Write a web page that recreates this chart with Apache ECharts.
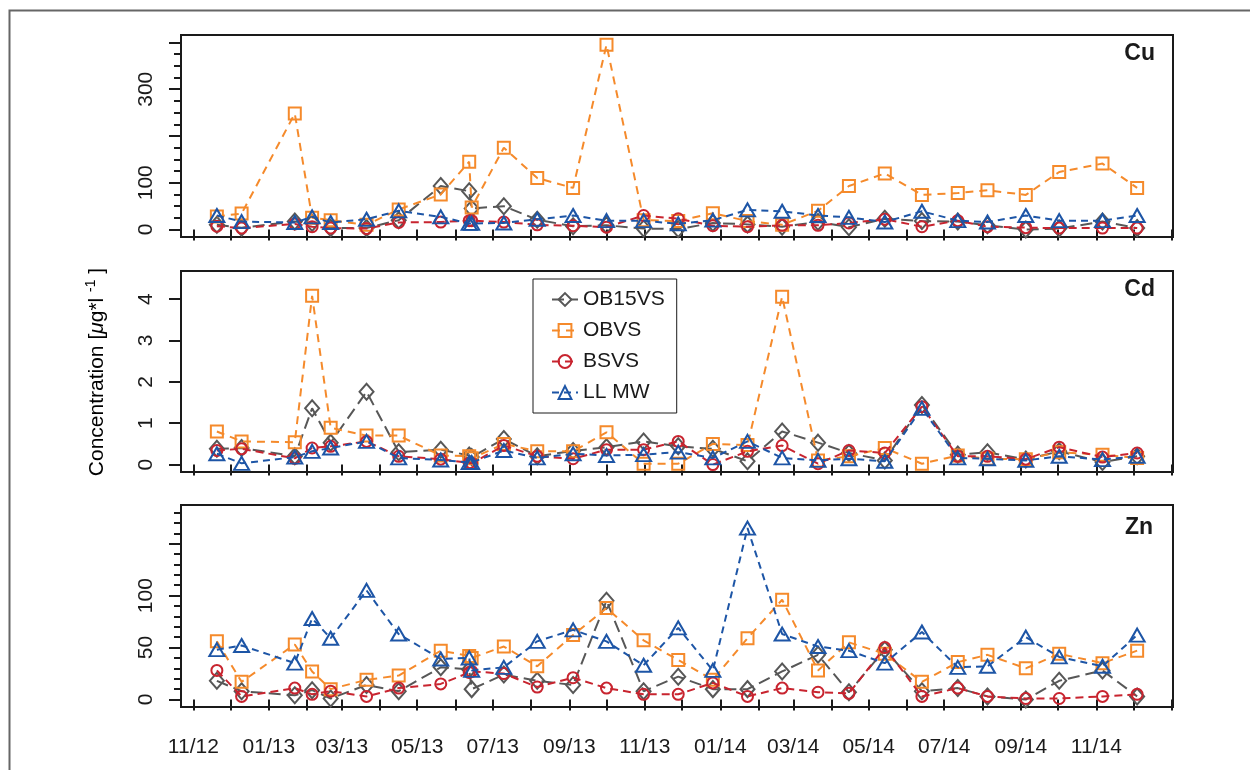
<!DOCTYPE html>
<html>
<head>
<meta charset="utf-8">
<script src="https://cdn.jsdelivr.net/npm/echarts@6/dist/echarts.min.js"></script>
<style>
  html, body { margin: 0; padding: 0; background: #fff; }
  #chart { width: 1250px; height: 770px; }
</style>
</head>
<body>
<div id="chart"></div>
<script>
// sampling dates (two samples close together in June 2013)
var dates = [
  '2012-11-20', '2012-12-10', '2013-01-22', '2013-02-05', '2013-02-20', '2013-03-21',
  '2013-04-16', '2013-05-20', '2013-06-12', '2013-06-14', '2013-07-10', '2013-08-06',
  '2013-09-04', '2013-10-01', '2013-10-31', '2013-11-28', '2013-12-26', '2014-01-23',
  '2014-02-20', '2014-03-21', '2014-04-15', '2014-05-14', '2014-06-13', '2014-07-12',
  '2014-08-05', '2014-09-05', '2014-10-02', '2014-11-06', '2014-12-04'
];

// Cu
var cuOB15VS = [10, 4, 17, 14, 3, 3, 20, 93, 82, 45, 50, 21, 7, 9, 2, 1, 14, 11, 6, 16, 5, 23, 18, 17, 9, 0, 2, 17, 3];
var cuOBVS = [28, 34, 248, 25, 20, 10, 43, 75, 145, 47, 175, 110, 89, 395, 20, 18, 35, 18, 10, 40, 93, 120, 74, 78, 84, 74, 123, 141, 89];
var cuBSVS = [7, 3, 12, 6, 3, 2, 15, 16, 19, 19, 16, 10, 8, 5, 30, 23, 8, 6, 9, 9, 14, 22, 6, 19, 6, 4, 3, 3, 3];
var cuLLMW = [30, 17, 15, 27, 15, 22, 40, 27, 13, 13, 14, 22, 30, 19, 19, 12, 20, 42, 39, 30, 26, 16, 39, 19, 16, 30, 19, 19, 30];

// Cd
var cdOB15VS = [0.38, 0.40, 0.20, 1.36, 0.53, 1.76, 0.30, 0.36, 0.22, 0.18, 0.62, 0.20, 0.33, 0.42, 0.56, 0.44, 0.38, 0.08, 0.80, 0.53, 0.28, 0.10, 1.44, 0.24, 0.30, 0.12, 0.32, 0.06, 0.20];
var cdOBVS = [0.80, 0.56, 0.54, 4.08, 0.89, 0.70, 0.70, 0.22, 0.20, 0.15, 0.50, 0.32, 0.32, 0.78, 0.02, 0.02, 0.50, 0.47, 4.06, 0.10, 0.20, 0.40, 0.02, 0.22, 0.14, 0.13, 0.30, 0.24, 0.16];
var cdBSVS = [0.34, 0.38, 0.15, 0.40, 0.44, 0.56, 0.20, 0.13, 0.04, 0.03, 0.46, 0.20, 0.14, 0.36, 0.36, 0.56, 0.00, 0.32, 0.46, 0.02, 0.34, 0.28, 1.40, 0.20, 0.20, 0.13, 0.42, 0.18, 0.28];
var cdLLMW = [0.26, 0.03, 0.18, 0.32, 0.40, 0.56, 0.16, 0.11, 0.05, 0.05, 0.34, 0.16, 0.26, 0.22, 0.24, 0.30, 0.16, 0.56, 0.16, 0.10, 0.14, 0.08, 1.36, 0.16, 0.14, 0.10, 0.20, 0.12, 0.20];

// Zn
var znOB15VS = [18, 8, 4, 9, 1, 14, 8, 31, 29, 10, 24, 18, 14, 95, 8, 22, 10, 10, 27, 43, 7, 48, 8, 11, 3, 0, 18, 28, 3];
var znOBVS = [56, 17, 53, 27, 10, 19, 23, 47, 42, 40, 51, 32, 62, 88, 57, 38, 19, 59, 96, 28, 55, 44, 17, 36, 43, 30, 44, 35, 47];
var znBSVS = [28, 3, 11, 5, 8, 3, 11, 15, 26, 27, 25, 12, 21, 11, 5, 5, 16, 3, 11, 7, 6, 50, 3, 11, 3, 1, 1, 3, 5];
var znLLMW = [48, 52, 35, 78, 59, 105, 63, 39, 40, 28, 31, 56, 67, 56, 33, 69, 28, 165, 63, 51, 47, 35, 65, 31, 32, 60, 41, 32, 62];

// axis ticks / labels
var monthTicks = [
  '2012-11-01', '2012-12-01', '2013-01-01', '2013-02-01', '2013-03-01', '2013-04-01', '2013-05-01',
  '2013-06-01', '2013-07-01', '2013-08-01', '2013-09-01', '2013-10-01', '2013-11-01', '2013-12-01',
  '2014-01-01', '2014-02-01', '2014-03-01', '2014-04-01', '2014-05-01', '2014-06-01', '2014-07-01',
  '2014-08-01', '2014-09-01', '2014-10-01', '2014-11-01', '2014-12-01', '2015-01-01'
];
var xLabelDates = ['2012-11-01', '2013-01-01', '2013-03-01', '2013-05-01', '2013-07-01', '2013-09-01', '2013-11-01',
  '2014-01-01', '2014-03-01', '2014-05-01', '2014-07-01', '2014-09-01', '2014-11-01'];
var xLabels = ['11/12', '01/13', '03/13', '05/13', '07/13', '09/13', '11/13', '01/14', '03/14', '05/14', '07/14', '09/14', '11/14'];

var cuMajorTicks = [0, 100, 200, 300, 400];
var cuMinorTicks = [0, 25, 50, 75, 100, 125, 150, 175, 200, 225, 250, 275, 300, 325, 350, 375, 400];
var cuLabels = [0, 100, 300];
var cdTicks = [0, 1, 2, 3, 4];
var znMajorTicks = [0, 50, 100, 150];
var znMinorTicks = [0, 10, 20, 30, 40, 50, 60, 70, 80, 90, 100, 110, 120, 130, 140, 150, 160, 170, 180];
var znLabels = [0, 50, 100];

var names = ['OB15VS', 'OBVS', 'BSVS', 'LL MW'];
var colors = ['#575757', '#F58A2B', '#C8242F', '#1D55A6'];
var symbols = ['diamond', 'rect', 'circle', 'triangle'];
var symbolSizes = [[14, 16], [12, 12], [11, 11], [15, 13]];
var dashes = [[12, 6], [8, 6], [8, 5], [7, 5]];

function toTs(s) {
  var p = s.split('-');
  return new Date(+p[0], +p[1] - 1, +p[2]).getTime();
}

var monthTs = monthTicks.map(toTs);
var xLabelTs = xLabelDates.map(toTs);
var FONT = 'Liberation Sans';
var INK = '#1a1a1a';

var grids = [
  { left: 181, right: 77, top: 35, height: 202 },
  { left: 181, right: 77, top: 271, height: 201 },
  { left: 181, right: 77, top: 505, height: 202 }
];
grids.forEach(function (g) {
  g.show = true;
  g.borderColor = INK;
  g.borderWidth = 2;
  g.backgroundColor = 'transparent';
});

// dates as numeric (ms) value axes so ticks can sit on month starts
var xAxes = [0, 1, 2].map(function (i) {
  return {
    type: 'value',
    gridIndex: i,
    min: toTs('2012-10-22'),
    max: toTs('2015-01-02'),
    axisLine: { show: false },
    splitLine: { show: false },
    axisTick: { show: true, customValues: monthTs, length: 11, lineStyle: { color: INK, width: 2 } },
    axisLabel: {
      show: i === 2,
      customValues: xLabelTs,
      margin: 30,
      fontFamily: FONT,
      fontSize: 21,
      color: INK,
      formatter: function (v) {
        var k = xLabelTs.indexOf(v);
        return k >= 0 ? xLabels[k] : '';
      }
    }
  };
});

function yAxis(grid, min, max, ticks, tickLen, labels) {
  return {
    type: 'value',
    gridIndex: grid,
    position: 'left',
    min: min,
    max: max,
    axisLine: { show: false },
    splitLine: { show: false },
    axisTick: { show: true, customValues: ticks, length: tickLen, lineStyle: { color: INK, width: 2 } },
    axisLabel: {
      show: !!labels,
      customValues: labels || [],
      rotate: 90,
      margin: 24,
      fontFamily: FONT,
      fontSize: 21,
      color: INK
    }
  };
}

var yAxes = [
  yAxis(0, -16, 416, cuMajorTicks, 12, cuLabels),
  yAxis(1, -0.18, 4.68, cdTicks, 12, cdTicks),
  yAxis(2, -7.2, 187.2, znMajorTicks, 12, znLabels),
  yAxis(0, -16, 416, cuMinorTicks, 7, null),
  yAxis(2, -7.2, 187.2, znMinorTicks, 7, null)
];

var panels = [
  [cuOB15VS, cuOBVS, cuBSVS, cuLLMW],
  [cdOB15VS, cdOBVS, cdBSVS, cdLLMW],
  [znOB15VS, znOBVS, znBSVS, znLLMW]
];

var series = [];
panels.forEach(function (set, p) {
  set.forEach(function (vals, k) {
    series.push({
      name: names[k],
      type: 'line',
      xAxisIndex: p,
      yAxisIndex: p,
      data: dates.map(function (d, i) { return [toTs(d), vals[i]]; }),
      symbol: symbols[k],
      symbolSize: symbolSizes[k],
      showAllSymbol: true,
      color: colors[k],
      itemStyle: { color: 'rgba(255,255,255,0)', borderColor: colors[k], borderWidth: 2 },
      lineStyle: { color: colors[k], width: 2, type: dashes[k] },
      emphasis: { disabled: true },
      z: 2 + k
    });
  });
});

var myChart = echarts.init(document.getElementById('chart'), null, { renderer: 'canvas' });
myChart.setOption({
  animation: false,
  backgroundColor: '#fff',
  grid: grids,
  xAxis: xAxes,
  yAxis: yAxes,
  legend: {
    data: names,
    left: 533,
    top: 279,
    orient: 'vertical',
    backgroundColor: '#fff',
    borderColor: INK,
    borderWidth: 1,
    padding: [10, 12, 10, 18],
    itemGap: 10,
    itemWidth: 26,
    itemHeight: 16,
    textStyle: { fontFamily: FONT, fontSize: 21, color: INK },
    z: 10
  },
  graphic: [
    {
      type: 'rect',
      left: 7,
      top: 8,
      shape: { width: 1300, height: 800 },
      style: { fill: 'none', stroke: '#666', lineWidth: 2 },
      silent: true
    },
    {
      type: 'text',
      x: 97,
      y: 372,
      rotation: Math.PI / 2,
      style: {
        text: '{a|Concentration [}{i|μ}{a|g*l }{s|-1}{a| ]}',
        align: 'center',
        verticalAlign: 'middle',
        rich: {
          a: { fontFamily: FONT, fontSize: 21, color: INK, lineHeight: 26 },
          i: { fontFamily: FONT, fontSize: 21, fontStyle: 'italic', color: INK, lineHeight: 26 },
          s: { fontFamily: FONT, fontSize: 14, color: INK, lineHeight: 14, verticalAlign: 'top' }
        }
      }
    },
    { type: 'text', x: 1155, y: 54, style: { text: 'Cu', align: 'right', verticalAlign: 'middle', fontFamily: FONT, fontWeight: 'bold', fontSize: 23, fill: INK } },
    { type: 'text', x: 1155, y: 290, style: { text: 'Cd', align: 'right', verticalAlign: 'middle', fontFamily: FONT, fontWeight: 'bold', fontSize: 23, fill: INK } },
    { type: 'text', x: 1153, y: 528, style: { text: 'Zn', align: 'right', verticalAlign: 'middle', fontFamily: FONT, fontWeight: 'bold', fontSize: 23, fill: INK } }
  ],
  series: series
});
</script>
</body>
</html>
